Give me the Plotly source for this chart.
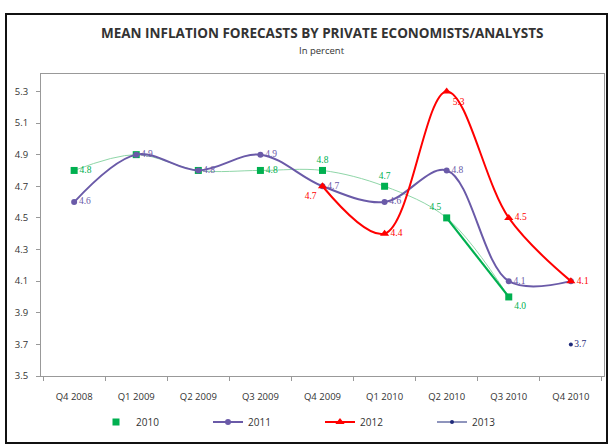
import plotly.graph_objects as go

quarters = ["Q4 2008", "Q1 2009", "Q2 2009", "Q3 2009", "Q4 2009",
            "Q1 2010", "Q2 2010", "Q3 2010", "Q4 2010"]

f2010 = [4.8, 4.9, 4.8, 4.8, 4.8, 4.7, 4.5, 4.0, None]
f2011 = [4.6, 4.9, 4.8, 4.9, 4.7, 4.6, 4.8, 4.1, 4.1]
f2012 = [None, None, None, None, 4.7, 4.4, 5.3, 4.5, 4.1]
f2013 = [None, None, None, None, None, None, None, None, 3.7]

pos2010 = ["middle right", None, None, "middle right", "top center",
           "top center", "top left", "bottom right", None]
pos2011 = ["middle right"] * 8 + [None]
pos2012 = [None, None, None, None, "bottom left", "middle right",
           "bottom right", "middle right", "middle right"]
pos2013 = [None] * 8 + ["middle right"]


def labels(vals, pos):
    return ["" if (v is None or p is None) else f"{v:.1f}" for v, p in zip(vals, pos)]


def positions(pos):
    return [p if p else "middle right" for p in pos]


GREEN = "#00b050"
PURPLE = "#6a5aa8"
RED = "#ff0000"
NAVY = "#1f2a7a"
SANS = "Open Sans"
lab_font = dict(family="Liberation Serif", size=9.5)

fig = go.Figure()

fig.add_trace(go.Scatter(
    x=quarters, y=f2010, mode="lines", line=dict(color="#8fd6a8", width=1, shape="spline"),
    showlegend=False, hoverinfo="skip"))
fig.add_trace(go.Scatter(
    x=quarters[6:8], y=f2010[6:8], mode="lines", line=dict(color=GREEN, width=2.2),
    showlegend=False, hoverinfo="skip"))
fig.add_trace(go.Scatter(
    x=quarters, y=f2010, mode="markers+text", name="2010",
    marker=dict(symbol="square", size=7, color=GREEN),
    text=labels(f2010, pos2010), textposition=positions(pos2010),
    textfont=dict(color=GREEN, **lab_font)))

fig.add_trace(go.Scatter(
    x=quarters, y=f2011, mode="lines+markers+text", name="2011",
    line=dict(color=PURPLE, width=2, shape="spline"),
    marker=dict(symbol="circle", size=6, color=PURPLE),
    text=labels(f2011, pos2011), textposition=positions(pos2011),
    textfont=dict(color=PURPLE, **lab_font)))

fig.add_trace(go.Scatter(
    x=quarters, y=f2012, mode="lines+markers+text", name="2012",
    line=dict(color=RED, width=2, shape="spline"),
    marker=dict(symbol="triangle-up", size=8, color=RED),
    text=labels(f2012, pos2012), textposition=positions(pos2012),
    textfont=dict(color=RED, **lab_font)))

fig.add_trace(go.Scatter(
    x=quarters, y=f2013, mode="lines+markers+text", name="2013",
    line=dict(color=NAVY, width=1),
    marker=dict(symbol="circle", size=4, color=NAVY),
    text=labels(f2013, pos2013), textposition=positions(pos2013),
    textfont=dict(color=NAVY, **lab_font)))

L, R, T, B = 41, 9, 74, 69
W, H = 613, 445
pw, ph = W - L - R, H - T - B


def px(xp):
    return (xp - L) / pw


def py(yp):
    return (H - B - yp) / ph


tick_font = dict(size=9.5, family=SANS, color="#333333")

fig.update_layout(
    width=W, height=H,
    margin=dict(l=L, r=R, t=T, b=B),
    paper_bgcolor="white", plot_bgcolor="white",
    font=dict(family=SANS, color="#333333"),
    xaxis=dict(type="category", categoryorder="array", categoryarray=quarters,
               showgrid=False, showline=True, linecolor="#999999", mirror=True,
               ticks="outside", tickson="boundaries", ticklen=4, tickcolor="#999999",
               tickfont=tick_font, fixedrange=True, zeroline=False,
               ticklabelstandoff=12),
    yaxis=dict(range=[3.5, 5.41], tick0=3.5, dtick=0.2, tickformat=".1f",
               showgrid=False, showline=True, linecolor="#999999", mirror=True,
               ticks="outside", ticklen=4, tickcolor="#999999",
               tickfont=tick_font, zeroline=False, ticklabelstandoff=6),
    legend=dict(orientation="h", x=px(96), xanchor="left", y=py(422), yanchor="middle",
                entrywidth=67, entrywidthmode="pixels", itemwidth=30,
                font=dict(size=10, family=SANS, color="#333333")),
    showlegend=True,
    annotations=[
        dict(text="<b>MEAN INFLATION FORECASTS BY PRIVATE ECONOMISTS/ANALYSTS</b>",
             xref="paper", yref="paper", x=px(322), y=py(33), showarrow=False,
             xanchor="center", yanchor="middle",
             font=dict(size=13.5, family=SANS, color="#333333")),
        dict(text="In percent", xref="paper", yref="paper", x=px(322), y=py(50),
             showarrow=False, xanchor="center", yanchor="middle",
             font=dict(size=9.5, family=SANS, color="#333333")),
    ],
    shapes=[
        dict(type="rect", xref="paper", yref="paper", x0=px(6), x1=px(607),
             y0=py(443), y1=py(14), line=dict(color="#111111", width=2),
             fillcolor="rgba(0,0,0,0)", layer="below"),
    ],
)

fig.write_html("out.html", config={"displayModeBar": False},
               post_script="document.body.style.margin='0';")
